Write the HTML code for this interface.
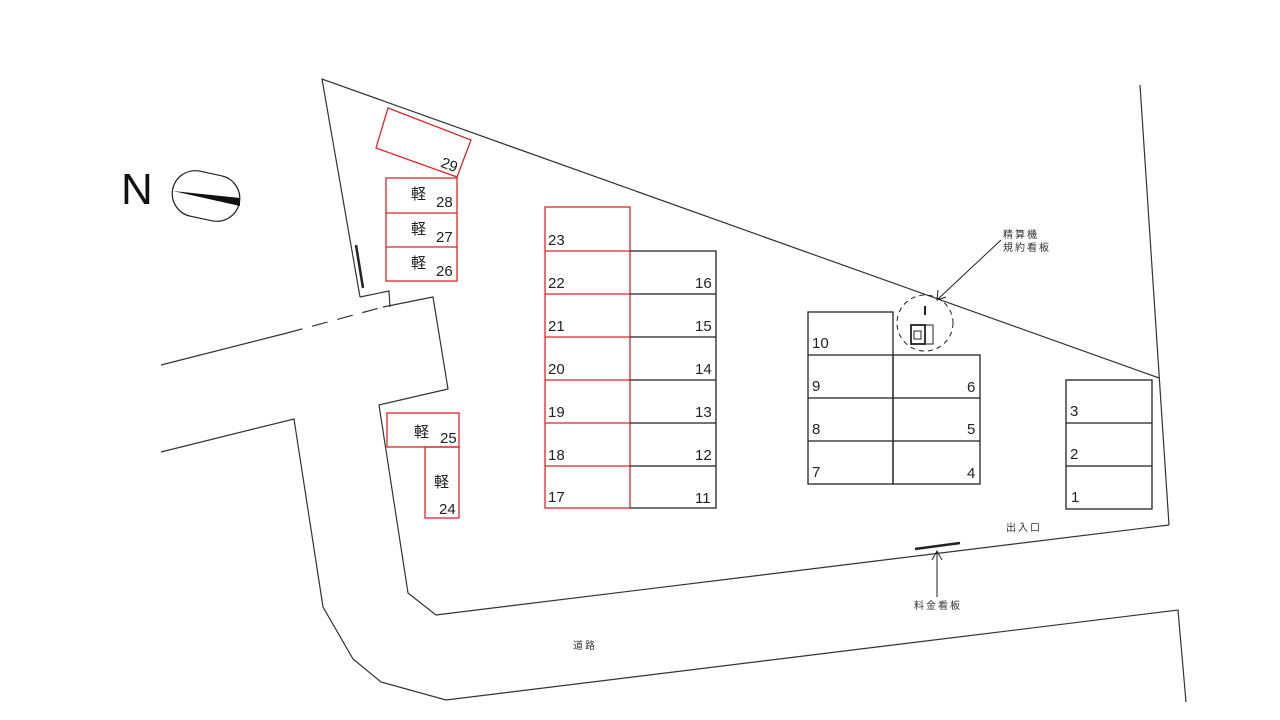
<!DOCTYPE html>
<html><head><meta charset="utf-8"><style>
html,body{margin:0;padding:0;background:#fff;}
svg{display:block;}
text{font-family:"Liberation Sans","Noto Sans CJK JP",sans-serif;}
</style></head><body>
<svg width="1280" height="720" viewBox="0 0 1280 720" xmlns="http://www.w3.org/2000/svg">
<g fill="none" stroke="#333" stroke-width="1.2">
<polyline points="360,297 322,79 1159,378"/>
<polyline points="360,297 389,291 390,307"/>
<line x1="1140" y1="85" x2="1169" y2="525"/>
<polyline points="1169,525 436,615 408,593 379,405 448,389 433,297 383,307"/>
<line x1="161" y1="365" x2="287" y2="333"/>
<line x1="287" y1="333" x2="383" y2="307" stroke-dasharray="16,10"/>
<polyline points="161,452 294,419 323,607 353,659 381,682 446,700 1178,610 1186,702"/>
</g>
<line x1="356" y1="245" x2="363" y2="288" stroke="#222" stroke-width="2.5"/>
<text x="121" y="204" font-size="44" fill="#111">N</text>
<rect x="172" y="173" width="68" height="46" rx="23" ry="23" transform="rotate(12 206 196)" fill="none" stroke="#222" stroke-width="1.2"/>
<polygon points="173,191 240,198 240,206" fill="#111"/>
<g fill="none" stroke="#d9262c" stroke-width="1.3">
<polygon points="388,108 471,140 457,177 376,148"/>
<rect x="386" y="178" width="71" height="103"/>
<line x1="386" y1="213" x2="457" y2="213"/><line x1="386" y1="247" x2="457" y2="247"/>
<rect x="387" y="413" width="72" height="34"/>
<rect x="425" y="447" width="34" height="71"/>
<rect x="545" y="207" width="85" height="301"/>
<line x1="545" y1="251" x2="630" y2="251"/><line x1="545" y1="294" x2="630" y2="294"/>
<line x1="545" y1="337" x2="630" y2="337"/><line x1="545" y1="380" x2="630" y2="380"/>
<line x1="545" y1="423" x2="630" y2="423"/><line x1="545" y1="466" x2="630" y2="466"/>
</g>
<g fill="none" stroke="#222" stroke-width="1.3">
<polyline points="630,251 716,251 716,508 630,508"/>
<line x1="630" y1="294" x2="716" y2="294"/><line x1="630" y1="337" x2="716" y2="337"/>
<line x1="630" y1="380" x2="716" y2="380"/><line x1="630" y1="423" x2="716" y2="423"/>
<line x1="630" y1="466" x2="716" y2="466"/>
<rect x="808" y="312" width="85" height="172"/>
<rect x="893" y="355" width="87" height="129"/>
<line x1="808" y1="355" x2="893" y2="355"/><line x1="808" y1="398" x2="980" y2="398"/>
<line x1="808" y1="441" x2="980" y2="441"/>
<rect x="1066" y="380" width="86" height="129"/>
<line x1="1066" y1="423" x2="1152" y2="423"/><line x1="1066" y1="466" x2="1152" y2="466"/>
<circle cx="925" cy="323" r="28" stroke-dasharray="5,4" stroke-width="1"/>
<rect x="911" y="325" width="14" height="19" stroke-width="1.8"/>
<rect x="925" y="325" width="8" height="19" stroke-width="1"/>
<rect x="914" y="331" width="7" height="8" stroke-width="1"/>
<line x1="925" y1="306" x2="925" y2="315" stroke-width="2"/>
<line x1="1001" y1="240" x2="938" y2="299" stroke-width="1"/>
<polyline points="938,290 937,300 946,297" stroke-width="1"/>
<line x1="937" y1="551" x2="937" y2="597" stroke-width="1"/>
<polyline points="932,560 937,551 942,560" stroke-width="1"/>
</g>
<line x1="915" y1="549" x2="960" y2="543" stroke="#222" stroke-width="2.5"/>
<g font-size="15" fill="#222">
<text x="441" y="170" transform="rotate(20 450 165)">29</text>
<text x="436" y="207">28</text><text x="436" y="242">27</text><text x="436" y="276">26</text>
<text x="411" y="199">軽</text><text x="411" y="234">軽</text><text x="411" y="268">軽</text>
<text x="414" y="437">軽</text><text x="440" y="443">25</text>
<text x="434" y="487">軽</text><text x="439" y="514">24</text>
<text x="548" y="245">23</text><text x="548" y="288">22</text><text x="548" y="331">21</text>
<text x="548" y="374">20</text><text x="548" y="417">19</text><text x="548" y="460">18</text><text x="548" y="502">17</text>
<text x="695" y="288">16</text><text x="695" y="331">15</text><text x="695" y="374">14</text>
<text x="695" y="417">13</text><text x="695" y="460">12</text><text x="695" y="503">11</text>
<text x="812" y="348">10</text><text x="812" y="391">9</text><text x="812" y="434">8</text><text x="812" y="477">7</text>
<text x="967" y="392">6</text><text x="967" y="434">5</text><text x="967" y="478">4</text>
<text x="1070" y="416">3</text><text x="1070" y="459">2</text><text x="1071" y="502">1</text>
</g>
<g font-size="10" fill="#333" letter-spacing="2">
<text x="1003" y="238">精算機</text>
<text x="1003" y="251">規約看板</text>
<text x="1006" y="531">出入口</text>
<text x="914" y="609">料金看板</text>
<text x="573" y="649">道路</text>
</g>
</svg>
</body></html>
